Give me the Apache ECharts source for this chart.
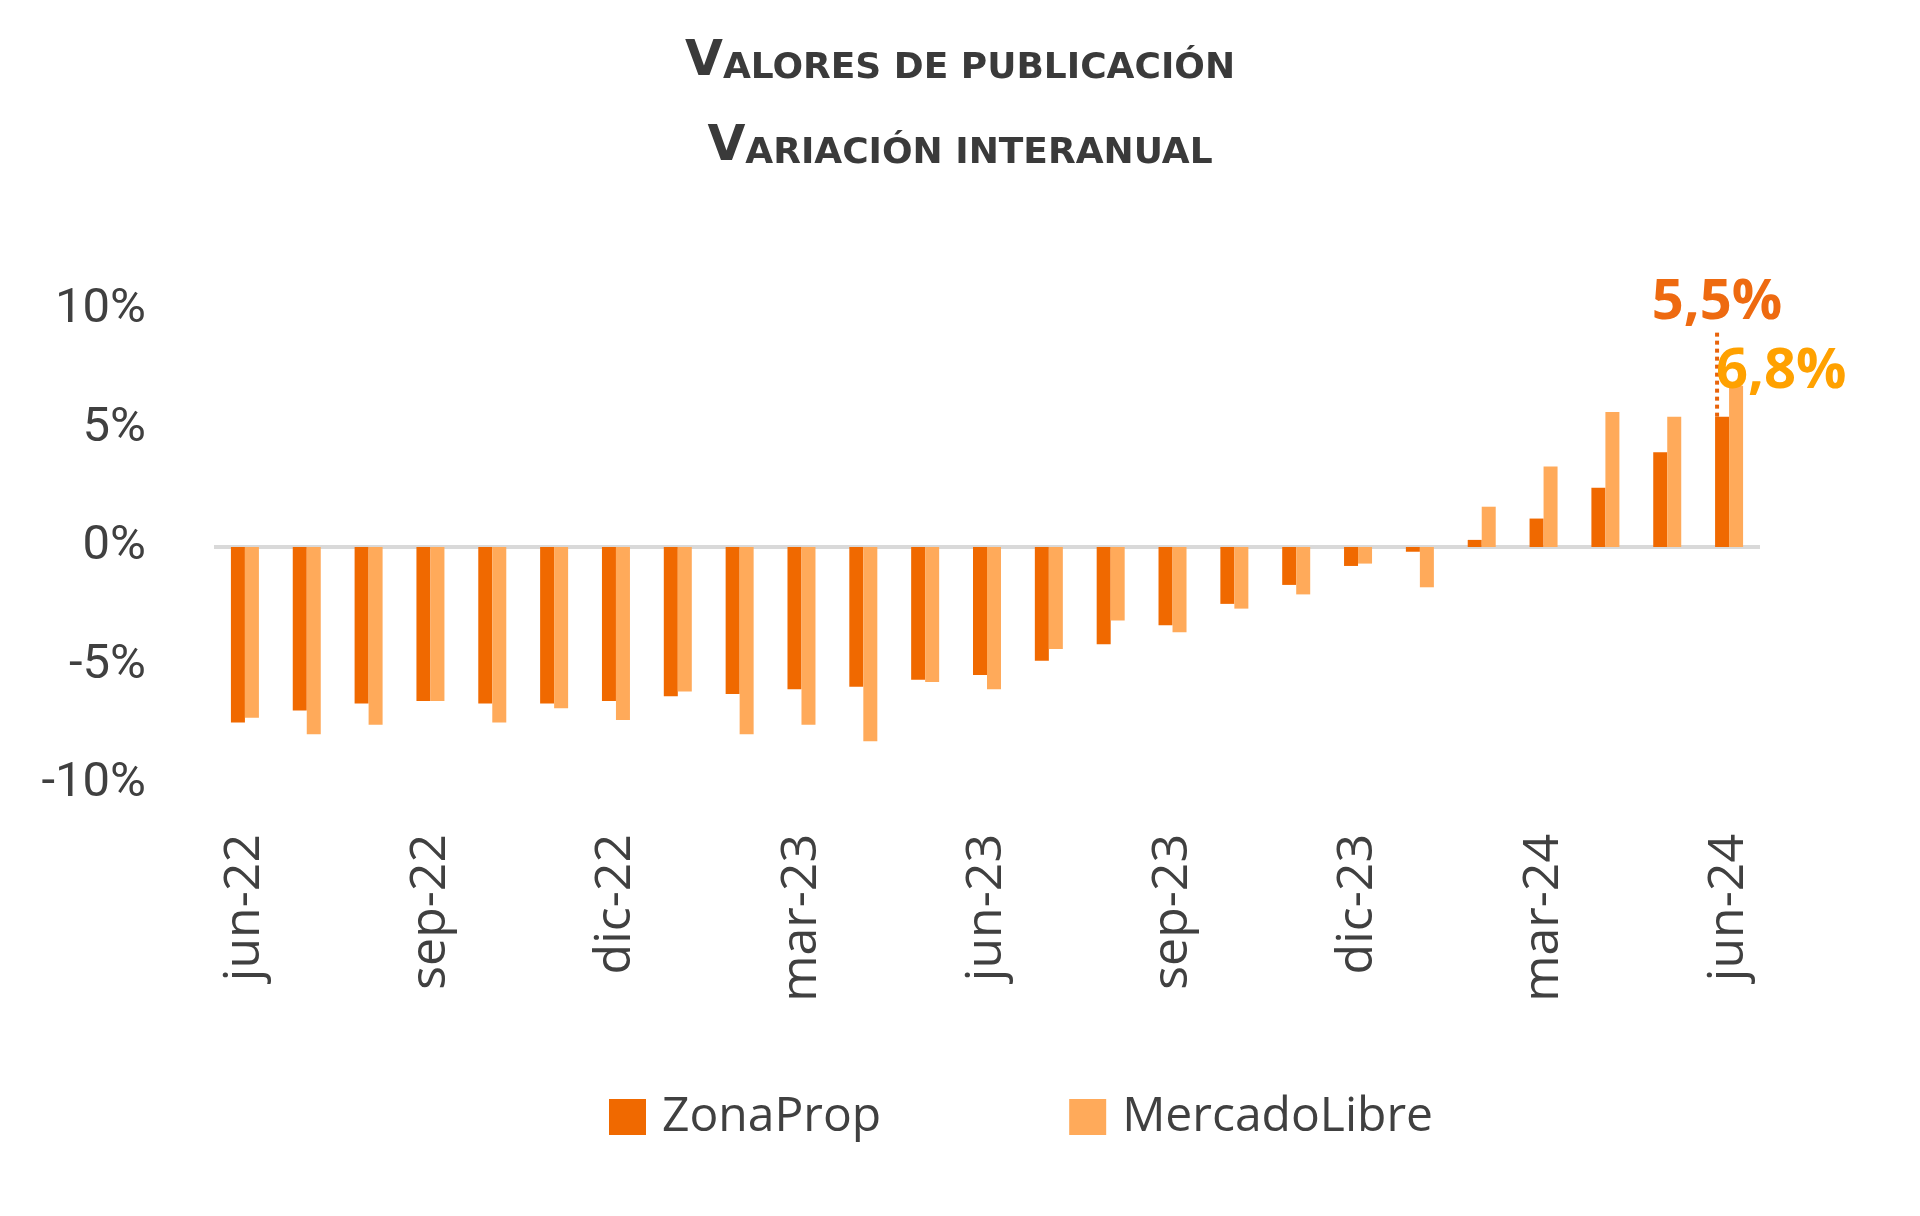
<!DOCTYPE html>
<html>
<head>
<meta charset="utf-8">
<title>Valores de publicación</title>
<script src="https://cdn.jsdelivr.net/npm/echarts@6/dist/echarts.min.js"></script>
<style>
  html, body { margin: 0; background: #fff; }
  #barChart { width: 1920px; height: 1216px; }
</style>
</head>
<body>
<div id="barChart"></div>
<script>
// variación interanual, en %
const months = ['jun-22', 'jul-22', 'ago-22', 'sep-22', 'oct-22', 'nov-22', 'dic-22',
  'ene-23', 'feb-23', 'mar-23', 'abr-23', 'may-23', 'jun-23', 'jul-23', 'ago-23', 'sep-23',
  'oct-23', 'nov-23', 'dic-23', 'ene-24', 'feb-24', 'mar-24', 'abr-24', 'may-24', 'jun-24'];
const zonaProp = [-7.4, -6.9, -6.6, -6.5, -6.6, -6.6, -6.5, -6.3, -6.2, -6.0, -5.9, -5.6, -5.4,
  -4.8, -4.1, -3.3, -2.4, -1.6, -0.8, -0.2, 0.3, 1.2, 2.5, 4.0, 5.5];
const mercadoLibre = [-7.2, -7.9, -7.5, -6.5, -7.4, -6.8, -7.3, -6.1, -7.9, -7.5, -8.2, -5.7, -6.0,
  -4.3, -3.1, -3.6, -2.6, -2.0, -0.7, -1.7, 1.7, 3.4, 5.7, 5.5, 6.8];
const yMin = -10, yMax = 10, yStep = 5;

const last = months.length - 1;
const pct = v => v.toFixed(1).replace('.', ',') + '%';
const txt = '#404040';

const titleRich = {
  a: { fontFamily: 'DejaVu Sans', fontWeight: 'bold', fontSize: 49, color: '#3a3a3a', verticalAlign: 'bottom' },
  b: { fontFamily: 'DejaVu Sans', fontWeight: 'bold', fontSize: 36, color: '#3a3a3a', verticalAlign: 'bottom' }
};

const chart = echarts.init(document.getElementById('barChart'));
chart.setOption({
  animation: false,
  title: [
    { left: 'center', top: 33, text: '{a|V}{b|ALORES DE PUBLICACIÓN}', textStyle: { rich: titleRich } },
    { left: 'center', top: 118, text: '{a|V}{b|ARIACIÓN INTERANUAL}', textStyle: { rich: titleRich } }
  ],
  legend: {
    data: ['ZonaProp', 'MercadoLibre'],
    left: 604, top: 1088,
    icon: 'rect', itemWidth: 37, itemHeight: 36, itemGap: 188,
    textStyle: { fontFamily: 'Open Sans', fontSize: 48, color: txt, padding: [0, 0, 0, 11] }
  },
  grid: { left: 214, right: 160, top: 310, bottom: 432, outerBoundsMode: 'none' },
  xAxis: {
    type: 'category',
    data: months,
    axisLine: { show: false },
    axisTick: { show: false },
    axisLabel: {
      interval: 2, rotate: 90, margin: 50,
      fontFamily: 'Open Sans', fontSize: 50, color: txt
    }
  },
  yAxis: {
    type: 'value',
    min: yMin, max: yMax, interval: yStep,
    axisLine: { show: false },
    axisTick: { show: false },
    axisLabel: {
      formatter: '{value}%', margin: 68, padding: [6, 0, 0, 0],
      fontFamily: 'Roboto', fontSize: 49, color: txt
    },
    splitLine: {
      show: true,
      lineStyle: { width: 4, color: ['rgba(0,0,0,0)', 'rgba(0,0,0,0)', '#d9d9d9', 'rgba(0,0,0,0)', 'rgba(0,0,0,0)'] }
    }
  },
  series: [
    {
      name: 'ZonaProp',
      type: 'bar',
      barWidth: 14,
      barGap: '0%',
      itemStyle: { color: '#f06900' },
      data: zonaProp.map((v, i) => i === last ? {
        value: v,
        label: {
          show: true, position: 'top', distance: 5,
          formatter: p => pct(p.value),
          fontFamily: 'Open Sans', fontWeight: 'bold', fontSize: 56, color: '#ee6a10'
        }
      } : v),
      labelLine: { show: true, lineStyle: { type: 'dotted', width: 4, color: '#e8630a' } },
      labelLayout: p => p.dataIndex === last ? { dy: -81, dx: -5 } : null
    },
    {
      name: 'MercadoLibre',
      type: 'bar',
      barWidth: 14,
      barGap: '0%',
      itemStyle: { color: '#ffaa5a' },
      data: mercadoLibre.map((v, i) => i === last ? {
        value: v,
        label: {
          show: true, position: [-13, -14], align: 'left', verticalAlign: 'middle',
          formatter: p => pct(p.value),
          fontFamily: 'Open Sans', fontWeight: 'bold', fontSize: 56, color: '#ffa100'
        }
      } : v)
    }
  ]
});
window.addEventListener('resize', chart.resize);
</script>
</body>
</html>
